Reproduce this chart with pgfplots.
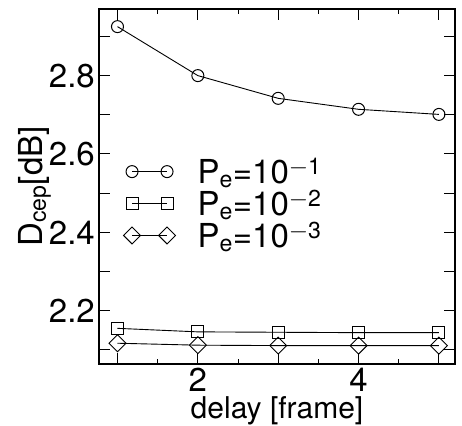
\documentclass[border=0pt]{standalone}
\usepackage{fontspec}
\setmainfont{TeX Gyre Heros}
\usepackage{pgfplots}
\pgfplotsset{compat=1.18}

\begin{document}
\begin{tikzpicture}[font=\fontsize{33}{38}\selectfont]
\begin{axis}[
name=a,
scale only axis,width=356pt,height=355pt,
xmin=0.77,xmax=5.2,ymin=2.064,ymax=2.97,
xtick={1,2,3,4,5},xticklabels={,2,,4,},
minor xtick={1.5,2.5,3.5,4.5},
ytick={2.1,2.2,...,2.9},yticklabels={,2.2,,2.4,,2.6,,2.8,},
tick align=inside,major tick length=11pt,minor tick length=5pt,
tick style={black,line width=1pt},
axis line style={line width=1.2pt},
/pgf/number format/assume math mode=true,
xticklabel style={anchor=base,yshift=-28pt,inner sep=0pt},
yticklabel style={anchor=east,xshift=-4pt,inner sep=0pt},
xlabel={delay [frame]},ylabel={D\textsubscript{cep}[dB]},
xlabel style={at={(axis description cs:0.5,0)},anchor=base,yshift=-55pt,inner sep=0pt,
  font=\fontsize{30}{36}\selectfont},
ylabel style={at={(axis description cs:-0.160,0.5)},anchor=base,inner sep=0pt},
every axis plot/.append style={black,line width=0.9pt,mark options={fill=white,line width=1pt}},
legend image code/.code={\draw[mark repeat=1,mark phase=1] plot coordinates {(0pt,0pt)(35pt,0pt)};},
legend style={at={(rel axis cs:0.06,0.586)},anchor=north west,draw=none,fill=none,
  row sep=5pt,column sep=22pt,font=\fontsize{33}{38}\selectfont,
  nodes={inner sep=0pt}},
legend cell align=left,
]
\addplot[mark=o,mark size=6pt] coordinates {(1,2.925)(2,2.800)(3,2.742)(4,2.714)(5,2.701)};
\addplot[mark=square,mark size=6pt] coordinates {(1,2.155)(2,2.146)(3,2.145)(4,2.144)(5,2.144)};
\addplot[mark=square,mark size=6pt,mark options={rotate=45}] coordinates {(1,2.117)(2,2.112)(3,2.111)(4,2.111)(5,2.111)};
\legend{P\textsubscript{e}=10\textsuperscript{$-$1},P\textsubscript{e}=10\textsuperscript{$-$2},P\textsubscript{e}=10\textsuperscript{$-$3}}
\end{axis}
\pgfresetboundingbox
\path ([shift={(-99pt,-62pt)}]a.south west) rectangle ([shift={(7pt,9pt)}]a.north east);
\end{tikzpicture}
\end{document}
